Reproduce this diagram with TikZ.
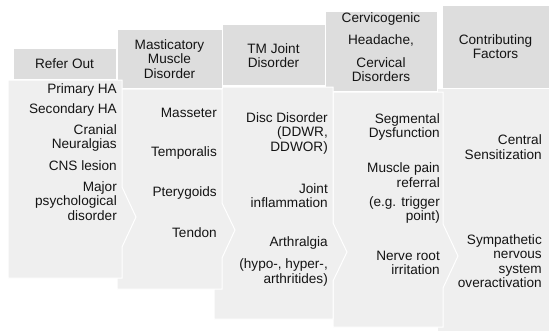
\documentclass[tikz,border=0pt]{standalone}
\usepackage{fontspec}
\setmainfont{Liberation Sans}
\definecolor{hdr}{RGB}{221,221,221}
\definecolor{bdy}{RGB}{239,239,239}
\definecolor{txt}{RGB}{20,20,20}
\begin{document}
\begin{tikzpicture}[x=1pt,y=-1pt,
  hdrbox/.style={fill=hdr, draw=white, line width=1pt},
  bodybox/.style={fill=bdy, draw=white, line width=1pt, line join=miter},
  lbl/.style={font=\fontsize{13.6}{14.5}\selectfont, text=txt, inner sep=0pt, align=right, anchor=east},
  hlbl/.style={font=\fontsize{13.6}{14.5}\selectfont, text=txt, inner sep=0pt, align=center}]
\useasboundingbox (0,0) rectangle (551,332);
\fill[white] (0,0) rectangle (551,332);
% column 5
\draw[hdrbox] (442,5) rectangle (549,88);
\draw[bodybox] (437,88) rectangle (549,331);
% column 4
\draw[hdrbox] (325,11) rectangle (437,91);
\draw[bodybox] (333,92) -- (443,92) -- (443,224) -- (458,256) -- (443,288) -- (443,327) -- (333,327) -- cycle;
% column 3
\draw[hdrbox] (222,24) rectangle (325,85);
\draw[bodybox] (214,87) -- (333,87) -- (333,223) -- (347,252) -- (333,281) -- (333,319) -- (214,319) -- cycle;
% column 2
\draw[hdrbox] (117,29) rectangle (222,88);
\draw[bodybox] (117,89) -- (222,89) -- (222,203) -- (235,230) -- (222,258) -- (222,289) -- (117,289) -- cycle;
% column 1
\draw[hdrbox] (13,48) rectangle (116,79);
\draw[bodybox] (8,80) -- (122,80) -- (122,187) -- (136,217) -- (122,247) -- (122,278) -- (8,278) -- cycle;

% headers
\node[hlbl] (h1) at (64.5,63.5) {Refer Out};
\node[hlbl] (h2) at (169.5,59) {Masticatory\\Muscle\\Disorder};
\node[hlbl] (h3) at (273.5,55.5) {TM Joint\\Disorder};
\node[hlbl] (h4a) at (381,19) {Cervicogenic};
\node[hlbl] (h4b) at (381,40) {Headache,};
\node[hlbl] (h4c) at (381,69.5) {Cervical\\Disorders};
\node[hlbl] (h5) at (495.5,46.5) {Contributing\\Factors};

% column 1 items
\node[lbl] (a1) at (117,90) {Primary HA};
\node[lbl] (a2) at (117,110) {Secondary HA};
\node[lbl] (a3) at (117,138) {Cranial\\Neuralgias};
\node[lbl] (a4) at (117,166) {CNS lesion};
\node[lbl] (a5) at (117,201) {Major\\psychological\\disorder};
% column 2 items
\node[lbl] (b1) at (217,113) {Masseter};
\node[lbl] (b2) at (217,153) {Temporalis};
\node[lbl] (b3) at (217,193) {Pterygoids};
\node[lbl] (b4) at (217,233) {Tendon};
% column 3 items
\node[lbl] (c1) at (328,133) {Disc Disorder\\(DDWR,\\DDWOR)};
\node[lbl] (c2) at (328,195.5) {Joint\\inflammation};
\node[lbl] (c3) at (328,243) {Arthralgia};
\node[lbl] (c4) at (328,272.5) {(hypo-, hyper-,\\arthritides)};
% column 4 items
\node[lbl] (d1) at (440,127) {Segmental\\Dysfunction};
\node[lbl] (d2) at (440,175) {Muscle pain\\referral};
\node[lbl] (d3) at (440,210) {(e.g. trigger\\point)};
\node[lbl] (d4) at (440,263) {Nerve root\\irritation};
% column 5 items
\node[lbl] (e1) at (542,147) {Central\\Sensitization};
\node[lbl] (e2) at (542,261) {Sympathetic\\nervous\\system\\overactivation};
\end{tikzpicture}
\end{document}
